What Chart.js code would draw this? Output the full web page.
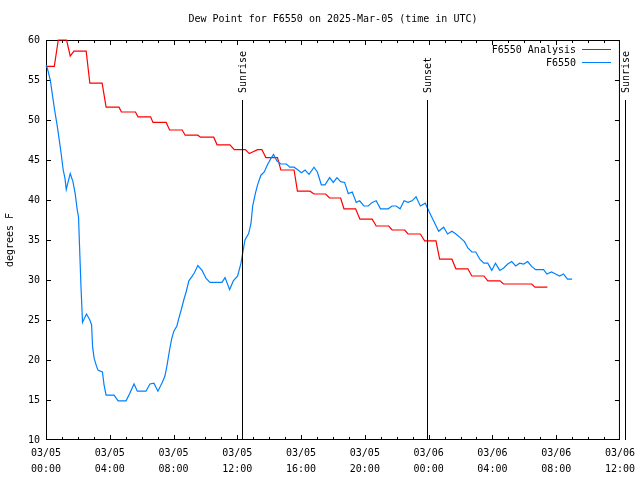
<!DOCTYPE html>
<html>
<head>
<meta charset="utf-8">
<script src="https://cdn.jsdelivr.net/npm/chart.js@4.4.1/dist/chart.umd.min.js"></script>
<style>
html, body { margin: 0; padding: 0; background: #fff; }
</style>
</head>
<body>
<canvas id="chart" width="640" height="480"></canvas>
<script>
// hours since 2025-03-05 00:00 UTC
const obsHours = [0, 0.08, 0.27, 0.39, 0.54, 0.71, 0.92, 1.08, 1.19, 1.27, 1.39, 1.52, 1.69, 1.83, 1.96, 2.04, 2.09, 2.19, 2.29,
  2.54, 2.75, 2.86, 2.92, 3.02, 3.17, 3.27, 3.54, 3.64, 3.77, 4.27, 4.52, 5.02, 5.25, 5.52, 5.73, 6.27, 6.52, 6.77, 7.02,
  7.29, 7.46, 7.58, 7.75, 7.89, 8.02, 8.21, 8.33, 8.48, 8.64, 8.79, 8.96, 9.14, 9.31, 9.52, 9.79, 10.04, 10.29, 11.04,
  11.23, 11.52, 11.75, 12.02, 12.23, 12.48, 12.71, 12.86, 12.96, 13.13, 13.27, 13.48, 13.69, 13.89, 14.11, 14.27, 14.48,
  14.73, 15.08, 15.29, 15.56, 15.81, 16.02, 16.25, 16.5, 16.81, 17.02, 17.27, 17.5, 17.79, 18.02, 18.25, 18.48, 18.73,
  18.96, 19.21, 19.46, 19.67, 19.94, 20.21, 20.46, 20.71, 20.98, 21.46, 21.71, 21.96, 22.21, 22.46, 22.71, 22.96, 23.21,
  23.48, 23.79, 24.04, 24.31, 24.63, 24.94, 25.19, 25.46, 25.71, 25.98, 26.25, 26.46, 26.71, 26.96, 27.21, 27.47, 27.71,
  27.96, 28.19, 28.46, 28.71, 28.96, 29.21, 29.46, 29.71, 29.96, 30.21, 30.46, 30.71, 31.21, 31.42, 31.71, 31.96, 32.21,
  32.46, 32.71, 33.0];
const obsValues = [56.8, 56.5, 55, 53.3, 51.25, 49.2, 46.25, 43.75, 42.7, 41.3, 42.3, 43.3, 42.3, 40.8, 38.75, 37.9, 35, 29.4, 24.7,
  25.75, 25, 24.4, 21.7, 20.2, 19.2, 18.7, 18.5, 16.9, 15.6, 15.6, 14.9, 14.9, 15.8, 17.0, 16.1, 16.1, 17.0, 17.1, 16.1,
  17.2, 18.0, 19.2, 21.25, 22.7, 23.6, 24.25, 25.2, 26.25, 27.5, 28.5, 29.9, 30.4, 30.9, 31.8, 31.2, 30.2, 29.7, 29.7,
  30.3, 28.8, 29.9, 30.5, 32.1, 35, 35.8, 37.1, 39.2, 40.8, 41.9, 43.1, 43.5, 44.4, 45.2, 45.7, 44.9,
  44.5, 44.5, 44.1, 44.1, 43.75, 43.4, 43.75, 43.2, 44.1, 43.5, 41.9, 41.9, 42.8, 42.2, 42.8, 42.3, 42.2,
  40.8, 41.0, 39.7, 39.9, 39.25, 39.25, 39.7, 39.9, 38.9, 38.9, 39.25, 39.25, 38.9, 39.9, 39.7, 39.9, 40.4,
  39.25, 39.6, 38.5, 37.4, 36.1, 36.6, 35.75, 36.1, 35.75, 35.3, 34.8, 34.0, 33.5, 33.5, 32.6, 32.1, 32.1,
  31.2, 32.1, 31.2, 31.5, 32.0, 32.3, 31.75, 32.1, 32.0, 32.3, 31.7, 31.3, 31.3, 30.75, 31.0, 30.75, 30.5,
  30.75, 30.1, 30.1];

const anaHours = [0, 0.52, 0.77, 1.29, 1.52, 1.75, 2.52, 2.75, 3.52, 3.77, 4.58, 4.73, 5.61, 5.77, 6.56, 6.71, 7.54, 7.75,
  8.54, 8.73, 9.52, 9.69, 10.52, 10.73, 11.54, 11.81, 12.5, 12.75, 12.96, 13.27, 13.54, 13.79, 14.52, 14.73, 15.56, 15.77,
  16.56, 16.81, 17.54, 17.79, 18.48, 18.69, 19.42, 19.69, 20.46, 20.71, 21.5, 21.71, 22.5, 22.71, 23.48, 23.75, 24.46,
  24.69, 25.46, 25.71, 26.46, 26.71, 27.47, 27.71, 28.48, 28.69, 30.46, 30.67, 31.45];
const anaValues = [56.7, 56.7, 60, 60, 58, 58.6, 58.6, 54.6, 54.6, 51.6, 51.6, 51.0, 51.0, 50.4, 50.4, 49.7, 49.7, 48.75,
  48.75, 48.1, 48.1, 47.85, 47.85, 46.9, 46.9, 46.3, 46.3, 45.8, 46.0, 46.3, 46.3, 45.3, 45.3, 43.75, 43.75, 41.1,
  41.1, 40.75, 40.75, 40.25, 40.25, 38.9, 38.9, 37.6, 37.6, 36.75, 36.75, 36.25, 36.25, 35.75, 35.75, 34.9, 34.9,
  32.6, 32.6, 31.4, 31.4, 30.5, 30.5, 29.9, 29.9, 29.5, 29.5, 29.1, 29.1];

const xTickLabels = [["03/05", "00:00"], ["03/05", "04:00"], ["03/05", "08:00"], ["03/05", "12:00"], ["03/05", "16:00"],
  ["03/05", "20:00"], ["03/06", "00:00"], ["03/06", "04:00"], ["03/06", "08:00"], ["03/06", "12:00"]];

const eventHours = [12.31, 23.88, 36.31];
const eventLabels = ["Sunrise", "Sunset", "Sunrise"];

const FONT = '10px "DejaVu Sans Mono", monospace';

function toPoints(xs, ys) {
  return xs.map((x, i) => ({ x: x, y: ys[i] }));
}

// cadre et graduations, sous les courbes
const frame = {
  id: 'frame',
  beforeDatasetsDraw(chart) {
    const ctx = chart.ctx;
    const a = chart.chartArea;
    const xs = chart.scales.x;
    const ys = chart.scales.y;
    ctx.save();
    ctx.strokeStyle = '#000';
    ctx.lineWidth = 1;
    ctx.strokeRect(a.left + 0.5, a.top + 0.5, a.right - a.left - 1, a.bottom - a.top - 1);
    ctx.beginPath();
    for (let v = 15; v < 60; v += 5) {
      const y = Math.round(ys.getPixelForValue(v)) + 0.5;
      ctx.moveTo(a.left, y); ctx.lineTo(a.left + 5, y);
      ctx.moveTo(a.right, y); ctx.lineTo(a.right - 5, y);
    }
    for (let h = 1; h < 36; h++) {
      const x = Math.round(xs.getPixelForValue(h)) + 0.5;
      const len = h % 4 === 0 ? 5 : 3;
      ctx.moveTo(x, a.bottom); ctx.lineTo(x, a.bottom - len);
      ctx.moveTo(x, a.top); ctx.lineTo(x, a.top + len);
    }
    ctx.stroke();
    ctx.restore();
  }
};

// titre, légende, lignes soleil
const decor = {
  id: 'decor',
  afterDatasetsDraw(chart) {
    const ctx = chart.ctx;
    const a = chart.chartArea;
    const xs = chart.scales.x;
    const ys = chart.scales.y;
    ctx.save();
    ctx.strokeStyle = '#000';
    ctx.lineWidth = 1;
    ctx.font = FONT;
    ctx.fillStyle = '#000';

    // lever / coucher du soleil
    const yTop = Math.round(ys.getPixelForValue(52.5));
    eventHours.forEach((h, i) => {
      const x = Math.round(xs.getPixelForValue(h)) + 0.5;
      ctx.beginPath();
      ctx.moveTo(x, yTop); ctx.lineTo(x, a.bottom);
      ctx.stroke();
      ctx.save();
      ctx.translate(x + 1, yTop - 7);
      ctx.rotate(-Math.PI / 2);
      ctx.textAlign = 'left';
      ctx.textBaseline = 'middle';
      ctx.fillText(eventLabels[i], 0, 0);
      ctx.restore();
    });

    // titre
    ctx.textAlign = 'center';
    ctx.textBaseline = 'middle';
    ctx.fillText('Dew Point for F6550 on 2025-Mar-05 (time in UTC)', (a.left + a.right) / 2, 19);

    // axe y
    ctx.save();
    ctx.translate(10, (a.top + a.bottom) / 2);
    ctx.rotate(-Math.PI / 2);
    ctx.fillText('degrees F', 0, 0);
    ctx.restore();

    // légende
    ctx.textAlign = 'right';
    chart.data.datasets.forEach((ds, i) => {
      const y = 50 + i * 13;
      ctx.fillStyle = '#000';
      ctx.fillText(ds.label, 576, y);
      ctx.strokeStyle = ds.borderColor;
      ctx.beginPath();
      ctx.moveTo(582, y - 0.5); ctx.lineTo(611, y - 0.5);
      ctx.stroke();
    });
    ctx.restore();
  }
};

const ctx = document.getElementById('chart').getContext('2d');
const chart = new Chart(ctx, {
  type: 'line',
  data: {
    datasets: [{
      label: 'F6550 Analysis',
      data: toPoints(anaHours, anaValues),
      borderColor: '#ff0000',
      borderWidth: 1.2,
      pointRadius: 0,
      tension: 0,
      fill: false,
      clip: 1,
      order: 1
    }, {
      label: 'F6550',
      data: toPoints(obsHours, obsValues),
      borderColor: '#0080ff',
      borderWidth: 1.2,
      pointRadius: 0,
      tension: 0,
      fill: false,
      clip: 1,
      order: 0
    }]
  },
  options: {
    responsive: false,
    animation: false,
    devicePixelRatio: 1,
    layout: { padding: { left: 0, right: 18, top: 40, bottom: 0 } },
    plugins: { legend: { display: false }, tooltip: { enabled: false }, title: { display: false } },
    scales: {
      x: {
        type: 'linear',
        min: 0,
        max: 36,
        grid: { display: false, drawTicks: false },
        border: { display: false },
        afterFit: scale => { scale.height = 40; },
        ticks: {
          stepSize: 4,
          autoSkip: false,
          maxRotation: 0,
          padding: 5,
          color: '#000',
          font: { family: '"DejaVu Sans Mono", monospace', size: 10, lineHeight: 1.6 },
          callback: value => xTickLabels[Math.round(value / 4)]
        }
      },
      y: {
        min: 10,
        max: 60,
        grid: { display: false, drawTicks: false },
        border: { display: false },
        afterFit: scale => { scale.width = 46; },
        ticks: {
          stepSize: 5,
          padding: 6,
          color: '#000',
          font: { family: '"DejaVu Sans Mono", monospace', size: 10 }
        }
      }
    }
  },
  plugins: [frame, decor]
});
</script>
</body>
</html>
